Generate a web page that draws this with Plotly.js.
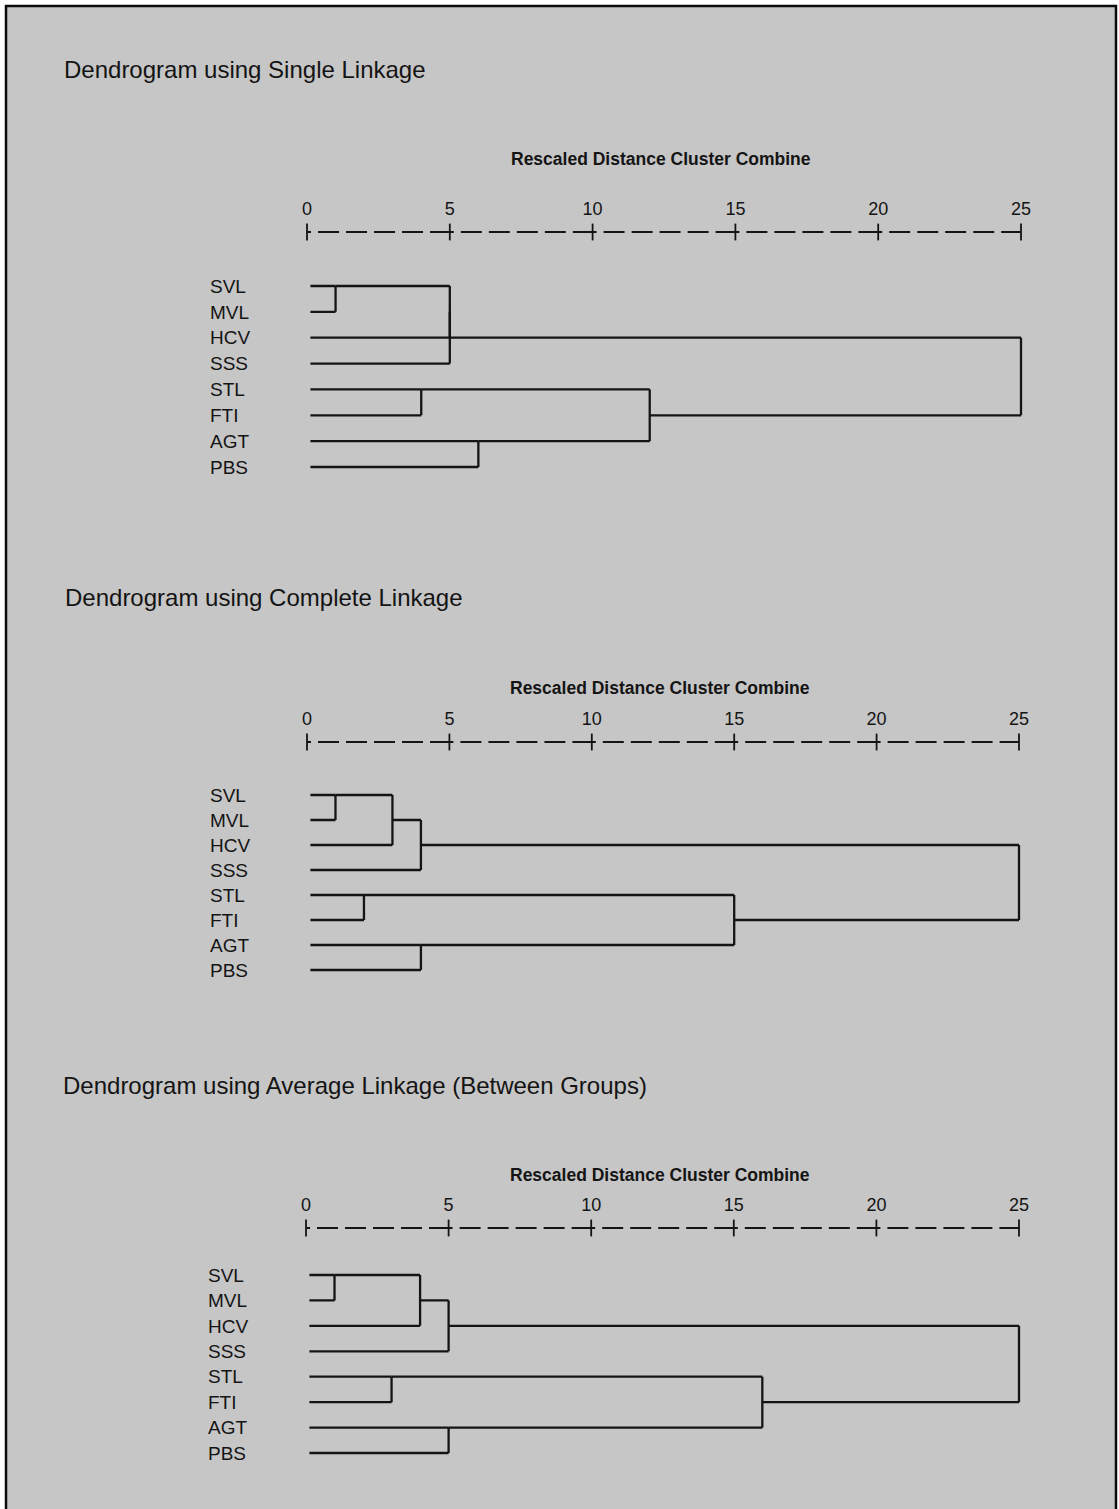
<!DOCTYPE html>
<html>
<head>
<meta charset="utf-8">
<script src="https://cdn.plot.ly/plotly-3.0.1.min.js"></script>
<style>
  html, body { margin: 0; padding: 0; background: #ffffff; }
  #chart { width: 1119px; height: 1509px; }
</style>
</head>
<body>
<div id="chart"></div>
<script>
// ---------------- DATA ----------------
const leaves = ['SVL', 'MVL', 'HCV', 'SSS', 'STL', 'FTI', 'AGT', 'PBS'];
const axisTicks = [0, 5, 10, 15, 20, 25];
const axisTitleText = 'Rescaled Distance Cluster Combine';
const panelTitles = [
  'Dendrogram using Single Linkage',
  'Dendrogram using Complete Linkage',
  'Dendrogram using Average Linkage (Between Groups)'
];
// merges: child ids (0-7 = leaves, 8+k = merge k) and rescaled distance
const singleLeft    = [0, 4, 8, 10, 6, 9, 11];
const singleRight   = [1, 5, 2, 3, 7, 12, 13];
const singleDist    = [1, 4, 5, 5, 6, 12, 25];

const completeLeft  = [0, 4, 8, 10, 6, 9, 11];
const completeRight = [1, 5, 2, 3, 7, 12, 13];
const completeDist  = [1, 2, 3, 4, 4, 15, 25];

const averageLeft   = [0, 4, 8, 10, 6, 9, 11];
const averageRight  = [1, 5, 2, 3, 7, 12, 13];
const averageDist   = [1, 3, 4, 5, 5, 16, 25];

// ---------------- STYLE / LAYOUT ----------------
const W = 1119, H = 1509;
const panels = [
  {left: singleLeft, right: singleRight, dist: singleDist,
   titleY: 69, titleX: 62, axTitleY: 159, dashY: 232, row0: 286, row7: 467, x0: 307, x25: 1021, labelX: 210},
  {left: completeLeft, right: completeRight, dist: completeDist,
   titleY: 598, titleX: 63, axTitleY: 688, dashY: 742, row0: 795, row7: 970, x0: 307, x25: 1019, labelX: 210},
  {left: averageLeft, right: averageRight, dist: averageDist,
   titleY: 1085, titleX: 61, axTitleY: 1175, dashY: 1228, row0: 1275, row7: 1453, x0: 306, x25: 1019, labelX: 208}
];
const leafStart = 0.12;
const ink = '#141414';
const bg = '#c6c6c6';
const sans = 'Liberation Sans, Arial, Helvetica, sans-serif';

const data = [];
const layout = {
  width: W, height: H,
  margin: {l: 0, r: 0, t: 0, b: 0},
  paper_bgcolor: '#ffffff',
  plot_bgcolor: 'rgba(0,0,0,0)',
  showlegend: false,
  shapes: [{
    type: 'rect', xref: 'paper', yref: 'paper', layer: 'below',
    x0: 6 / W, x1: 1116 / W, y0: -0.02, y1: 1 - 6 / H,
    fillcolor: bg, line: {color: '#0a0a0a', width: 2.5}
  }],
  annotations: []
};

function buildSegments(left, right, dist) {
  const n = leaves.length;
  const rowOf = [], startOf = [];
  for (let i = 0; i < n; i++) { rowOf[i] = i; startOf[i] = leafStart; }
  const xs = [], ys = [];
  for (let k = 0; k < dist.length; k++) {
    const a = left[k], b = right[k], d = dist[k];
    [a, b].forEach(c => {
      xs.push(startOf[c], d, null);
      ys.push(rowOf[c], rowOf[c], null);
    });
    xs.push(d, d, null);
    ys.push(rowOf[a], rowOf[b], null);
    rowOf[n + k] = Math.floor((rowOf[a] + rowOf[b]) / 2);
    startOf[n + k] = d;
  }
  return {xs, ys};
}

panels.forEach((p, i) => {
  const sfx = i === 0 ? '' : String(i + 1);
  const xa = 'x' + sfx, ya = 'y' + sfx;
  const s = (p.row7 - p.row0) / 7;
  const dashRow = (p.dashY - p.row0) / s;
  const topPx = p.dashY - 9, botPx = p.row7 + 14;
  const topVal = (topPx - p.row0) / s, botVal = (botPx - p.row0) / s;
  const ux = (p.x25 - p.x0) / 25;

  const seg = buildSegments(p.left, p.right, p.dist);
  data.push({
    type: 'scatter', mode: 'lines', x: seg.xs, y: seg.ys,
    xaxis: xa, yaxis: ya, hoverinfo: 'skip',
    line: {color: ink, width: 2.3, shape: 'linear'}, connectgaps: false
  });
  // dashed scale line, one sub-path per interval
  const dx = [], dy = [];
  for (let t = 0; t < axisTicks.length - 1; t++) {
    dx.push(axisTicks[t], axisTicks[t + 1], null);
    dy.push(dashRow, dashRow, null);
  }
  data.push({
    type: 'scatter', mode: 'lines', x: dx, y: dy, xaxis: xa, yaxis: ya,
    hoverinfo: 'skip', line: {color: ink, width: 1.9, dash: '4px,7px,17px,0px'}
  });
  data.push({
    type: 'scatter', mode: 'markers', x: axisTicks, y: axisTicks.map(() => dashRow),
    xaxis: xa, yaxis: ya, hoverinfo: 'skip', cliponaxis: false,
    marker: {symbol: 'line-ns-open', size: 12, color: ink, line: {color: ink, width: 1.8}}
  });

  layout['xaxis' + sfx] = {
    domain: [(p.x0 - 0.5 * ux) / W, (p.x25 + 0.5 * ux) / W],
    range: [-0.5, 25.5], anchor: ya, side: 'top',
    tickvals: axisTicks, ticktext: axisTicks.map(String),
    ticks: '', showgrid: false, zeroline: false, showline: false,
    ticklabelstandoff: 3,
    tickfont: {family: sans, size: 18, color: ink},
    fixedrange: true
  };
  layout['yaxis' + sfx] = {
    domain: [1 - botPx / H, 1 - topPx / H],
    range: [botVal, topVal], anchor: 'free', side: 'right',
    position: (p.labelX - 1) / W,
    tickvals: leaves.map((_, j) => j), ticktext: leaves,
    ticks: '', showgrid: false, zeroline: false, showline: false,
    tickfont: {family: sans, size: 19, color: ink},
    fixedrange: true
  };
  layout.annotations.push({
    xref: 'paper', yref: 'paper', x: p.titleX / W, y: 1 - p.titleY / H,
    xanchor: 'left', yanchor: 'middle', showarrow: false,
    text: panelTitles[i],
    font: {family: sans, size: 24, color: ink}
  });
  layout.annotations.push({
    xref: xa, yref: 'paper', x: 12.5, xshift: -3, y: 1 - p.axTitleY / H,
    xanchor: 'center', yanchor: 'middle', showarrow: false,
    text: axisTitleText,
    font: {family: sans, size: 17.5, weight: 700, color: ink}
  });
});

Plotly.newPlot('chart', data, layout, {displayModeBar: false, staticPlot: true});
</script>
</body>
</html>
